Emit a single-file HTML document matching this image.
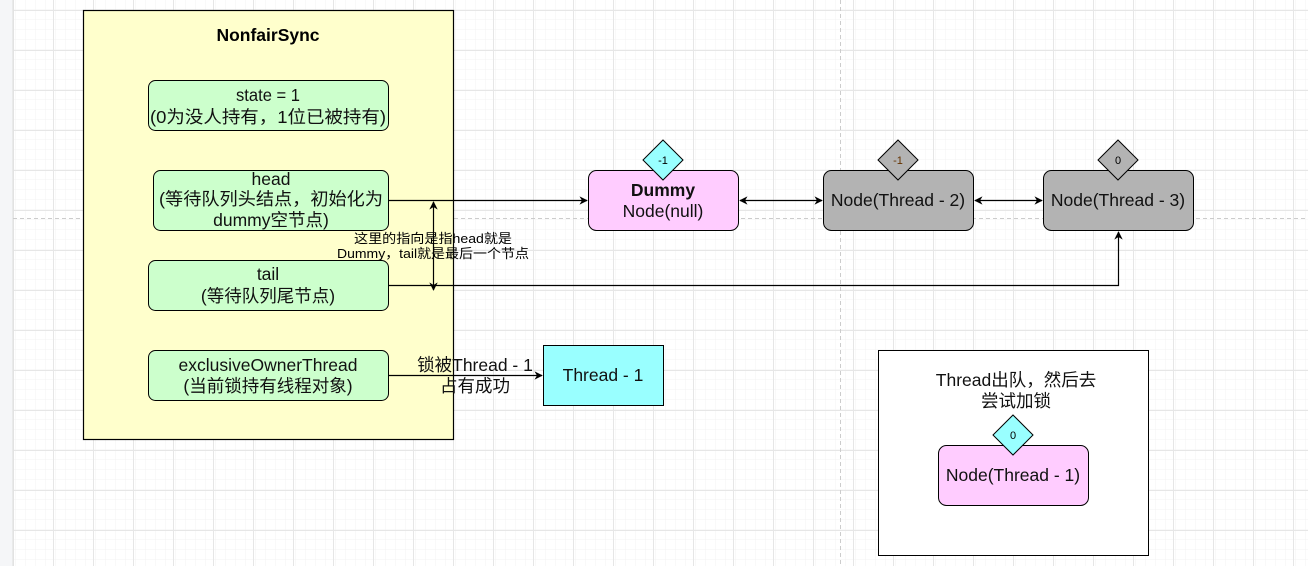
<!DOCTYPE html>
<html><head><meta charset="utf-8"><style>
html,body{margin:0;padding:0;background:#fff;}
svg{display:block;font-family:"Liberation Sans","Noto Sans CJK SC",sans-serif;}
</style></head><body>
<svg width="1308" height="566" viewBox="0 0 1308 566" xmlns="http://www.w3.org/2000/svg">
<defs>
<pattern id="minor" width="10" height="10" patternUnits="userSpaceOnUse" x="13" y="10">
<path d="M10 0V10M0 10H10" stroke="#f3f3f3" stroke-width="1" fill="none"/></pattern>
<pattern id="major" width="40" height="40" patternUnits="userSpaceOnUse" x="13" y="10">
<rect width="40" height="40" fill="url(#minor)"/>
<path d="M0.5 0V40M0 0.5H40" stroke="#e6e6e6" stroke-width="1" fill="none"/></pattern>
<marker id="a" viewBox="0 0 10 10" refX="9" refY="5" markerWidth="7" markerHeight="7" orient="auto-start-reverse"><path d="M0 0L10 5L0 10L3 5z" fill="#000"/></marker>
</defs>
<rect width="1308" height="566" fill="url(#major)"/>
<rect width="13" height="566" fill="#f5f6f8"/>
<line x1="13" y1="0" x2="13" y2="566" stroke="#ddd"/>
<line x1="840.5" y1="0" x2="840.5" y2="566" stroke="#ccc" stroke-dasharray="4 3"/>
<line x1="13" y1="218.5" x2="1308" y2="218.5" stroke="#ccc" stroke-dasharray="4 3"/>

<rect x="83.5" y="10.5" width="370" height="429" fill="#ffffcc" stroke="#000" stroke-width="1.2"/>
<text x="268" y="41" text-anchor="middle" font-size="17.5" font-weight="bold">NonfairSync</text>

<g font-size="17.5" text-anchor="middle" fill="#111">
<rect x="148.5" y="80.5" width="240" height="50" rx="7" fill="#ccffcc" stroke="#000"/>
<text x="268" y="101" textLength="64" lengthAdjust="spacingAndGlyphs">state = 1</text><text x="268" y="123" textLength="236" lengthAdjust="spacingAndGlyphs">(0为没人持有，1位已被持有)</text>
<rect x="153.5" y="170.5" width="235" height="60" rx="7" fill="#ccffcc" stroke="#000"/>
<text x="271" y="185">head</text><text x="271" y="205" textLength="224" lengthAdjust="spacingAndGlyphs">(等待队列头结点，初始化为</text><text x="271" y="226">dummy空节点)</text>
<rect x="148.5" y="260.5" width="240" height="50" rx="7" fill="#ccffcc" stroke="#000"/>
<text x="268" y="280">tail</text><text x="268" y="302">(等待队列尾节点)</text>
<rect x="148.5" y="350.5" width="240" height="50" rx="7" fill="#ccffcc" stroke="#000"/>
<text x="268" y="371">exclusiveOwnerThread</text><text x="268" y="392">(当前锁持有线程对象)</text>

<rect x="588.5" y="170.5" width="150" height="60" rx="8" fill="#ffccff" stroke="#000"/>
<text x="663" y="196" font-weight="bold">Dummy</text><text x="663" y="217">Node(null)</text>
<rect x="823.5" y="170.5" width="150" height="60" rx="8" fill="#b3b3b3" stroke="#000"/>
<text x="898" y="206">Node(Thread - 2)</text>
<rect x="1043.5" y="170.5" width="150" height="60" rx="8" fill="#b3b3b3" stroke="#000"/>
<text x="1118" y="206">Node(Thread - 3)</text>

<rect x="543.5" y="345.5" width="120" height="60" fill="#99ffff" stroke="#000"/>
<text x="603" y="381">Thread - 1</text>
<text x="475" y="371">锁被Thread - 1</text><text x="475" y="392">占有成功</text>

<rect x="878.5" y="350.5" width="270" height="205" fill="#fff" stroke="#000"/>
<text x="1016" y="386">Thread出队，然后去</text><text x="1016" y="407">尝试加锁</text>
<rect x="938.5" y="445.5" width="150" height="60" rx="8" fill="#ffccff" stroke="#000"/>
<text x="1013" y="481">Node(Thread - 1)</text>
</g>

<g font-size="11" text-anchor="middle">
<path d="M663 140L683 160L663 180L643 160Z" fill="#99ffff" stroke="#000"/><text x="663" y="164">-1</text>
<path d="M898 140L918 160L898 180L878 160Z" fill="#b3b3b3" stroke="#000"/><text x="898" y="164" fill="#663300">-1</text>
<path d="M1118 140L1138 160L1118 180L1098 160Z" fill="#b3b3b3" stroke="#000"/><text x="1118" y="164">0</text>
<path d="M1013 415L1033 435L1013 455L993 435Z" fill="#99ffff" stroke="#000"/><text x="1013" y="439">0</text>
</g>

<g stroke="#000" stroke-width="1.2" fill="none">
<line x1="388" y1="200.5" x2="587" y2="200.5" marker-end="url(#a)"/>
<line x1="740" y1="200.5" x2="822" y2="200.5" marker-start="url(#a)" marker-end="url(#a)"/>
<line x1="975" y1="200.5" x2="1042" y2="200.5" marker-start="url(#a)" marker-end="url(#a)"/>
<path d="M388 285.5H1118.5V232" marker-end="url(#a)"/>
<line x1="433.5" y1="202" x2="433.5" y2="290" marker-start="url(#a)" marker-end="url(#a)"/>
<line x1="388" y1="375.5" x2="542" y2="375.5" marker-end="url(#a)"/>
</g>
<g font-size="13" text-anchor="middle">
<text x="433" y="243" textLength="158" lengthAdjust="spacingAndGlyphs">这里的指向是指head就是</text>
<text x="433" y="258" textLength="192" lengthAdjust="spacingAndGlyphs">Dummy，tail就是最后一个节点</text>
</g>
</svg>
</body></html>
